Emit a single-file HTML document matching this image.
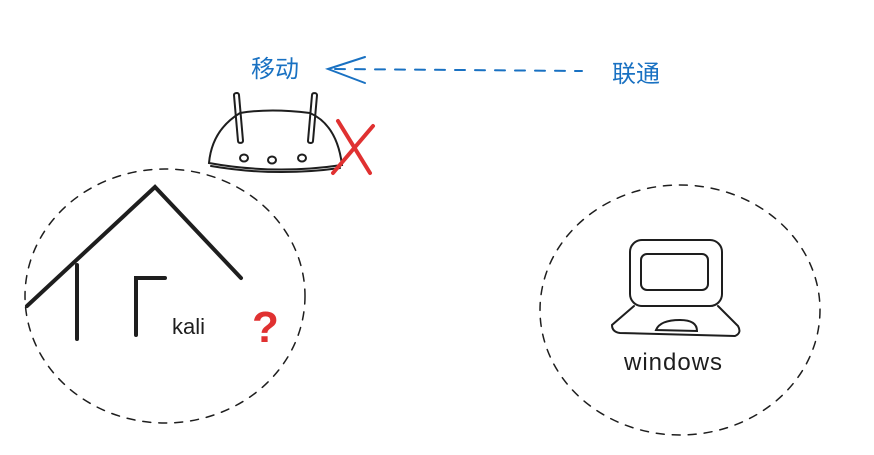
<!DOCTYPE html>
<html><head><meta charset="utf-8"><style>
html,body{margin:0;padding:0;background:#fff;}
svg{display:block}
</style></head><body>
<svg width="874" height="455" viewBox="0 0 874 455" xmlns="http://www.w3.org/2000/svg">
<g fill="none" stroke="#1e1e1e" stroke-width="2" stroke-linecap="round">
<ellipse cx="165" cy="296" rx="140" ry="127" stroke-dasharray="8 8" stroke-width="1.5"/>
<ellipse cx="680" cy="310" rx="140" ry="125" stroke-dasharray="8 8" stroke-width="1.5"/>
<!-- house -->
<polyline points="27,306 155,187 241,278" stroke-width="4"/>
<line x1="77" y1="265" x2="77" y2="339" stroke-width="4"/>
<polyline points="136,335 136,278 165,278" stroke-width="4"/>
<!-- router -->
<path d="M209,163 Q212,130 240,113 Q270,108 310,113 Q337,125 342,165 Q275,175 209,163 Z"/>
<path d="M211,166 Q275,177 340,168"/>
<rect x="236" y="93" width="5" height="50" rx="2" transform="rotate(-5 238 118)"/>
<rect x="310" y="93" width="5" height="50" rx="2" transform="rotate(5 312 118)"/>
<ellipse cx="244" cy="158" rx="4" ry="3.5"/>
<ellipse cx="272" cy="160" rx="4" ry="3.5"/>
<ellipse cx="302" cy="158" rx="4" ry="3.5"/>
<!-- laptop -->
<rect x="630" y="240" width="92" height="66" rx="12"/>
<rect x="641" y="254" width="67" height="36" rx="6"/>
<path d="M634,306 L612,325 Q612,332 620,333 L735,336 Q742,333 738,326 L718,306"/>
<path d="M656,330 Q660,320 680,320 Q697,320 697,331 Z"/>
</g>
<!-- arrow -->
<g stroke="#1971c2" stroke-width="2" fill="none" stroke-linecap="round">
<line x1="335" y1="69" x2="582" y2="71" stroke-dasharray="10 10"/>
<polyline points="365,57 328,69 365,83"/>
</g>
<!-- red X -->
<g stroke="#e03131" stroke-width="4" stroke-linecap="round">
<line x1="338" y1="121" x2="370" y2="173"/>
<line x1="373" y1="126" x2="333" y2="173"/>
</g>
<text x="251" y="77" font-family="Liberation Sans, Noto Sans CJK SC, sans-serif" font-size="24" fill="#1971c2">移动</text>
<text x="612" y="82" font-family="Liberation Sans, Noto Sans CJK SC, sans-serif" font-size="24" fill="#1971c2">联通</text>
<text x="172" y="334" font-family="Liberation Sans, sans-serif" font-size="22" fill="#1e1e1e">kali</text>
<text x="252" y="342" font-family="Liberation Sans, sans-serif" font-size="44" font-weight="bold" fill="#e03131">?</text>
<text x="624" y="370" font-family="Liberation Sans, sans-serif" font-size="24" fill="#1e1e1e" letter-spacing="1">windows</text>
</svg>
</body></html>
